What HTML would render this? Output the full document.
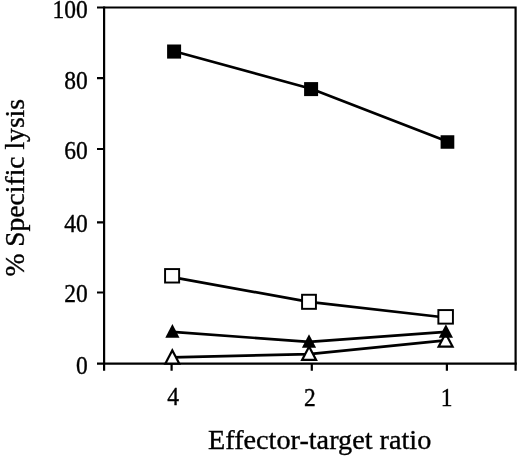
<!DOCTYPE html>
<html><head><meta charset="utf-8"><style>
html,body{margin:0;padding:0;background:#fff;width:520px;height:458px;overflow:hidden}
svg{position:absolute;left:0;top:0;will-change:transform}
text{font-family:"Liberation Serif",serif;fill:#000;stroke:#000;stroke-width:0.35px}
</style></head><body>
<svg width="520" height="458" viewBox="0 0 520 458">
<g stroke="#000" stroke-width="2.2" fill="none" stroke-linecap="butt">
<path d="M97 7.5 H515.6 V370.7"/>
<path d="M104.1 6.4 V370.7"/>
<path d="M97 363.7 H516.7"/>
<path d="M97 78.2 H104 M97 149 H104 M97 222.3 H104 M97 292.5 H104"/>
<path d="M171.6 363.7 V370.8 M311.8 363.7 V370.8 M446.9 363.7 V370.8"/>
</g>
<g stroke="#000" stroke-width="2.7" fill="none" stroke-linejoin="round">
<polyline points="174.1,51.2 311.1,88.8 447.45,141.6"/>
<polyline points="172.1,277.1 309.0,301.9 445.65,317.5"/>
<polyline points="172.4,331.9 309.0,341.9 445.9,331.9"/>
<polyline points="172.2,357.3 309.1,354.1 445.6,340.3"/>
</g>
<path d="M172.30 348.10 L181.10 364.70 L163.50 364.70 Z" fill="#000"/>
<path d="M172.30 352.80 L177.44 362.50 L167.16 362.50 Z" fill="#fff"/>
<path d="M309.10 344.30 L317.90 360.90 L300.30 360.90 Z" fill="#000"/>
<path d="M309.10 349.00 L314.24 358.70 L303.96 358.70 Z" fill="#fff"/>
<path d="M445.60 331.10 L454.40 347.70 L436.80 347.70 Z" fill="#000"/>
<path d="M445.60 335.80 L450.74 345.50 L440.46 345.50 Z" fill="#fff"/>
<path d="M172.40 324.10 L179.50 337.70 L165.30 337.70 Z" fill="#000"/>
<path d="M309.00 334.20 L316.10 347.80 L301.90 347.80 Z" fill="#000"/>
<path d="M445.90 324.20 L453.00 337.80 L438.80 337.80 Z" fill="#000"/>
<rect x="164.10" y="268.10" width="16" height="15.4" fill="#000"/>
<rect x="166.05" y="270.05" width="12.10" height="11.50" fill="#fff"/>
<rect x="301.10" y="293.80" width="15.8" height="16" fill="#000"/>
<rect x="303.05" y="295.75" width="11.90" height="12.10" fill="#fff"/>
<rect x="437.40" y="309.10" width="16.5" height="15.5" fill="#000"/>
<rect x="439.35" y="311.05" width="12.60" height="11.60" fill="#fff"/>
<rect x="167.10" y="44.50" width="14" height="14.1" fill="#000"/>
<rect x="304.10" y="82.10" width="14" height="14" fill="#000"/>
<rect x="440.60" y="135.25" width="13.7" height="13.5" fill="#000"/>
<g font-size="23.5" text-anchor="end">
<text transform="translate(87.8 18.3) scale(1 1.05)">100</text>
<text transform="translate(87.8 88.5) scale(1 1.05)">80</text>
<text transform="translate(87.8 159) scale(1 1.05)">60</text>
<text transform="translate(87.8 231.9) scale(1 1.05)">40</text>
<text transform="translate(87.8 302.4) scale(1 1.05)">20</text>
<text transform="translate(87.8 373.7) scale(1 1.05)">0</text>
</g>
<g font-size="23.5" text-anchor="middle">
<text transform="translate(173.2 405.3) scale(1 1.04)">4</text>
<text transform="translate(309.8 405.9) scale(1 1.04)">2</text>
<text transform="translate(446.5 405.9) scale(1 1.04)">1</text>
</g>
<text x="208" y="449.4" font-size="27.8" textLength="223.3" lengthAdjust="spacingAndGlyphs">Effector-target ratio</text>
<text transform="translate(23.6 276.6) rotate(-90)" font-size="26.8" textLength="177.6" lengthAdjust="spacingAndGlyphs">% Specific lysis</text>
</svg>
</body></html>
